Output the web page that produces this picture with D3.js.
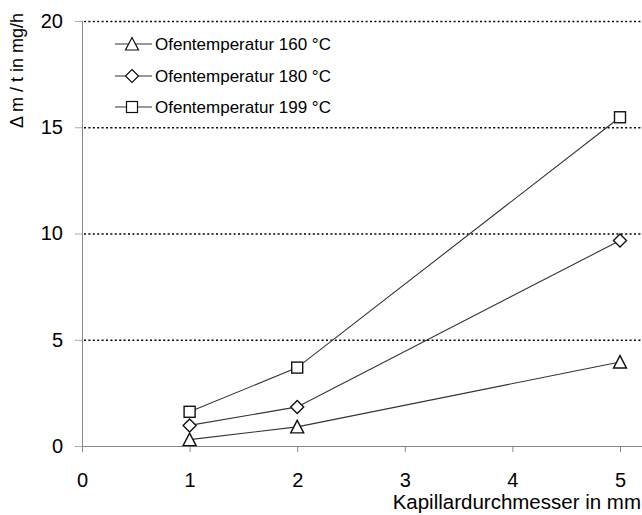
<!DOCTYPE html>
<html lang="de">
<head>
<meta charset="UTF-8">
<title>Ofentemperatur</title>
<script src="https://cdn.jsdelivr.net/npm/d3@7"></script>
<style>
  body { margin: 0; background: #fff; }
  text { font-family: "Liberation Sans", Arial, sans-serif; }
</style>
</head>
<body>
<svg width="642" height="515"></svg>
<script>
    // Daten
    var durchmesser = [1, 2, 5];
    var werte160 = [0.3, 0.9, 3.95];
    var werte180 = [0.97, 1.84, 9.67];
    var werte199 = [1.61, 3.69, 15.47];
    var serienNamen = ["Ofentemperatur 160 °C", "Ofentemperatur 180 °C", "Ofentemperatur 199 °C"];
    var xTicks = [0, 1, 2, 3, 4, 5];
    var yTicks = [0, 5, 10, 15, 20];

    var svg = d3.select("svg");
    var marge = {top: 21, left: 82, bottom: 69, right: 22};
    var width = +svg.attr("width");
    var height = +svg.attr("height");
    var innerH = height - marge.top - marge.bottom;

    var xScale = d3.scaleLinear().domain([0, 5]).range([marge.left, width - marge.right]);
    var yScale = d3.scaleLinear().domain([0, 20]).range([marge.top + innerH, marge.top]);

    // Gitterlinien (gepunktet)
    svg.append("g").selectAll("line")
        .data(yTicks.filter(function(d){ return d > 0; }))
        .enter().append("line")
        .attr("x1", marge.left + 2).attr("x2", width - 1)
        .attr("y1", function(d){ return yScale(d) + 0.5; })
        .attr("y2", function(d){ return yScale(d) + 0.5; })
        .attr("stroke", "#000").attr("stroke-width", 1.3)
        .attr("stroke-dasharray", "2,2.4");

    // Achsen
    var fmt = d3.format("d");
    var xAxis = d3.axisBottom(xScale).tickValues(xTicks).tickFormat(fmt).tickSize(6).tickPadding(21);
    var yAxis = d3.axisLeft(yScale).tickValues(yTicks).tickFormat(fmt).tickSize(7).tickPadding(12);

    var gx = svg.append("g")
        .attr("transform", "translate(0," + yScale(0) + ")")
        .call(xAxis);
    gx.select(".domain").attr("d", "M" + (marge.left - 7) + ",0.5H" + width);
    var gy = svg.append("g")
        .attr("transform", "translate(" + marge.left + ",0)")
        .call(yAxis);
    gy.select(".domain").attr("d", "M0.5," + yScale(0) + "V" + yScale(20));

    svg.selectAll(".domain, .tick line").attr("stroke", "#888");
    gy.selectAll(".tick line").attr("stroke", "#aaa");
    svg.selectAll(".tick text").attr("font-size", 20).attr("fill", "#000")
        .style("font-family", "Liberation Sans, Arial, sans-serif");

    // Achsentitel
    svg.append("text")
        .attr("x", width - 1).attr("y", 509)
        .attr("text-anchor", "end").attr("font-size", 20.5)
        .text("Kapillardurchmesser in mm");
    svg.append("text")
        .attr("transform", "translate(23,13) rotate(-90)")
        .attr("text-anchor", "end").attr("font-size", 18)
        .text("Δ m / t in mg/h");

    // Symbole
    var symbole = [
        function(g){ g.append("path").attr("d", "M0,-6.5L6.5,6L-6.5,6Z"); },
        function(g){ g.append("path").attr("d", "M0,-6.5L6.5,0L0,6.5L-6.5,0Z"); },
        function(g){ g.append("rect").attr("x", -5.5).attr("y", -5.5).attr("width", 11).attr("height", 11); }
    ];

    var serien = [werte160, werte180, werte199];
    var line = d3.line()
        .x(function(d, i){ return xScale(durchmesser[i]); })
        .y(function(d){ return yScale(d); });

    serien.forEach(function(werte, s){
        svg.append("path")
            .attr("d", line(werte))
            .attr("fill", "none").attr("stroke", "#333").attr("stroke-width", 1.1);
        werte.forEach(function(v, i){
            var g = svg.append("g")
                .attr("transform", "translate(" + xScale(durchmesser[i]) + "," + yScale(v) + ")")
                .attr("fill", "#fff").attr("stroke", "#111").attr("stroke-width", 1.4);
            symbole[s](g);
        });
    });

    // Legende
    var legendeY = [44, 76, 107];
    serienNamen.forEach(function(name, s){
        var y = legendeY[s];
        svg.append("line").attr("x1", 115).attr("x2", 152).attr("y1", y).attr("y2", y)
            .attr("stroke", "#333").attr("stroke-width", 1.1);
        var g = svg.append("g").attr("transform", "translate(132," + y + ")")
            .attr("fill", "#fff").attr("stroke", "#111").attr("stroke-width", 1.2);
        symbole[s](g);
        svg.append("text").attr("x", 155).attr("y", y + 6).attr("font-size", 17).text(name);
    });
</script>
</body>
</html>
